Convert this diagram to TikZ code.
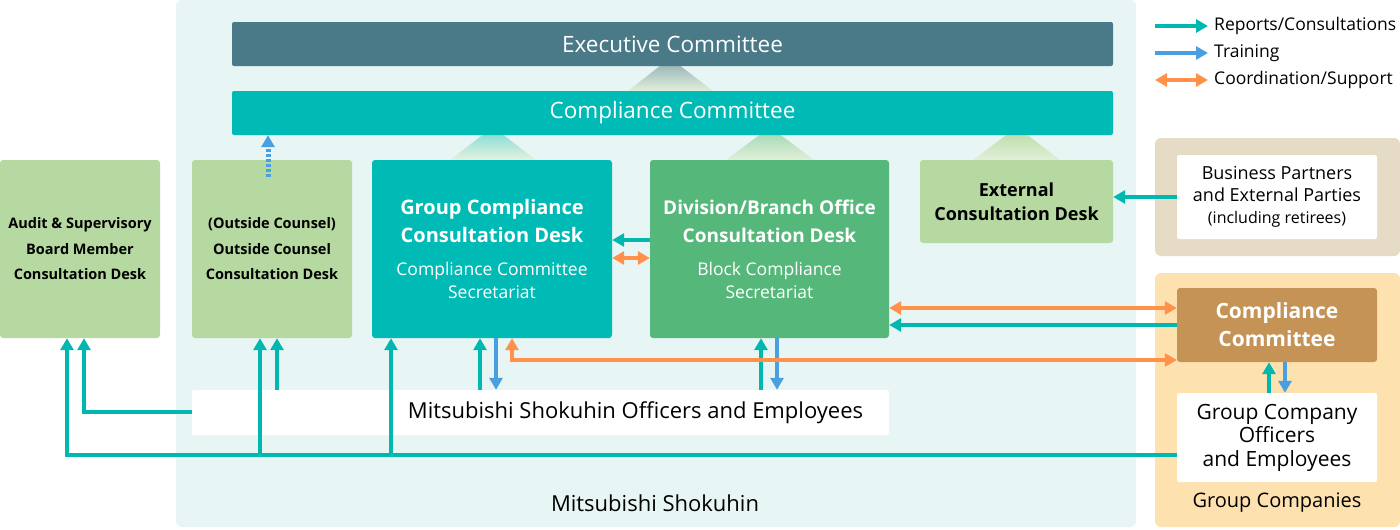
\documentclass[tikz,border=0pt]{standalone}
\usepackage{fontspec}
\setmainfont{Open Sans}
\usetikzlibrary{arrows.meta,positioning,calc}
\definecolor{msbg}{HTML}{E8F5F5}
\definecolor{execcol}{HTML}{4A7A88}
\definecolor{tealcol}{HTML}{00BAB5}
\definecolor{divgreen}{HTML}{55B87A}
\definecolor{lightgreen}{HTML}{B5D9A0}
\definecolor{partnerbg}{HTML}{E6DCC5}
\definecolor{groupbg}{HTML}{FDE2B0}
\definecolor{browncol}{HTML}{C49355}
\definecolor{reportcol}{HTML}{00B8B0}
\definecolor{traincol}{HTML}{4A9FE0}
\definecolor{coordcol}{HTML}{FF914A}
\tikzset{
  region/.style = {rounded corners=6pt,inner sep=0pt},
  bar/.style    = {rounded corners=2pt,text=white,minimum width=881pt,
                   minimum height=44pt,inner sep=0pt,
                   font=\fontsize{22.5}{26}\selectfont},
  desk/.style   = {rounded corners=3pt,align=center,inner sep=0pt},
  wbox/.style   = {fill=white,rounded corners=2pt,align=center,inner sep=0pt},
  tip/.style    = {-{Triangle[length=12pt,width=13pt]}},
  rarrow/.style = {tip,line width=4pt,color=reportcol},
  tarrow/.style = {tip,line width=4pt,color=traincol},
  carrow/.style = {{Triangle[length=12pt,width=13pt]}-{Triangle[length=12pt,width=13pt]},
                   line width=4pt,color=coordcol},
  legtext/.style= {anchor=west,inner sep=0pt,font=\fontsize{17.5}{20}\selectfont},
}
\begin{document}
\begin{tikzpicture}[x=1pt,y=-1pt]
  \useasboundingbox (0,0) rectangle (1400,530);

  % regions
  \node[region,fill=msbg,minimum width=960pt,minimum height=527pt] (ms) at (656,263.5) {};
  \node[font=\fontsize{22}{26}\selectfont] (mslabel) at (655,503) {Mitsubishi Shokuhin};
  \node[region,fill=partnerbg,minimum width=245pt,minimum height=118pt] (bpbg) at (1277.5,197) {};
  \node[region,fill=groupbg,minimum width=245pt,minimum height=254pt] (gcbg) at (1277.5,400) {};
  \node[font=\fontsize{20}{24}\selectfont] (gclabel) at (1277,503) {Group Companies};

  % pyramids
  \shade[top color=execcol!65!white,bottom color=lightgreen!40!white] (628,91) -- (670,58) -- (713,91) -- cycle;
  \shade[top color=tealcol!55!white,bottom color=lightgreen!35!white] (450,160) -- (493,127) -- (536,160) -- cycle;
  \shade[top color=divgreen!60!white,bottom color=lightgreen!40!white] (726,160) -- (770,127) -- (814,160) -- cycle;
  \shade[top color=lightgreen,bottom color=lightgreen!40!white] (973,160) -- (1017,127) -- (1060,160) -- cycle;

  % committees
  \node[bar,fill=execcol] (exec) at (672.5,44) {Executive Committee};
  \node[bar,fill=tealcol] (cc) at (672.5,113) {Compliance Committee};

  % desks
  \node[desk,fill=lightgreen,minimum width=160pt,minimum height=178pt,
        font=\fontsize{14.5}{25.5}\selectfont\bfseries] (audit) at (80,249)
        {Audit \& Supervisory\\Board Member\\Consultation Desk};
  \node[desk,fill=lightgreen,minimum width=160pt,minimum height=178pt,
        font=\fontsize{14.5}{25.5}\selectfont\bfseries] (outside) at (272,249)
        {(Outside Counsel)\\Outside Counsel\\Consultation Desk};
  \node[desk,fill=tealcol,text=white,minimum width=240pt,minimum height=178pt,
        font=\fontsize{17.5}{23}\selectfont] (group) at (492,249)
        {{\fontsize{20}{28}\selectfont\bfseries Group Compliance}\\[5pt]
         {\fontsize{20}{28}\selectfont\bfseries Consultation Desk}\\[10pt]
         Compliance Committee\\Secretariat};
  \node[desk,fill=divgreen,text=white,minimum width=239pt,minimum height=178pt,
        font=\fontsize{17.5}{23}\selectfont] (division) at (769.5,249)
        {{\fontsize{19}{28}\selectfont\bfseries Division/Branch Office}\\[5pt]
         {\fontsize{19}{28}\selectfont\bfseries Consultation Desk}\\[10pt]
         Block Compliance\\Secretariat};
  \node[desk,fill=lightgreen,minimum width=193pt,minimum height=83pt,
        font=\fontsize{18}{24}\selectfont\bfseries] (external) at (1016.5,201.5)
        {External\\Consultation Desk};

  % people
  \node[wbox,minimum width=200pt,minimum height=84pt,
        font=\fontsize{18}{22}\selectfont] (bp) at (1277,197)
        {Business Partners\\and External Parties\\{\fontsize{16}{18}\selectfont(including retirees)}};
  \node[desk,fill=browncol,text=white,minimum width=200pt,minimum height=74pt,
        font=\fontsize{21}{28}\selectfont\bfseries] (gcc) at (1277,325)
        {Compliance\\Committee};
  \node[wbox,minimum width=200pt,minimum height=89pt,
        font=\fontsize{21}{23.5}\selectfont] (gco) at (1277,437.5)
        {Group Company\\Officers\\and Employees};
  \node[wbox,minimum width=697pt,minimum height=45pt,
        font=\fontsize{22}{26}\selectfont] (officers) at (540.5,412.5)
        {\hspace*{190pt}Mitsubishi Shokuhin Officers and Employees};

  % legend
  \node[legtext] (leg1) at (1214,26) {Reports/Consultations};
  \node[legtext] (leg2) at (1214,53) {Training};
  \node[legtext] (leg3) at (1214,80) {Coordination/Support};
  \coordinate (l1) at (1155,26);
  \coordinate (l2) at (1155,53);
  \coordinate (l3) at (1155,80);
  \draw[rarrow] (l1) -- ($(leg1.west)+(-6,0)$);
  \draw[tarrow] (l2) -- ($(leg2.west)+(-6,0)$);
  \draw[carrow] (l3) -- ($(leg3.west)+(-6,0)$);

  % columns and rows of the connectors
  \coordinate (a1) at (67,0);   \coordinate (a2) at (84,0);
  \coordinate (o1) at (260,0);  \coordinate (o2) at (277,0);
  \coordinate (g1) at (391,0);  \coordinate (g2) at (480,0);
  \coordinate (g3) at (496,0);  \coordinate (g4) at (512,0);
  \coordinate (d1) at (761,0);  \coordinate (d2) at (777,0);
  \coordinate (c1) at (1269,0); \coordinate (c2) at (1285,0);
  \coordinate (low) at (0,455); \coordinate (mid) at (0,412);
  \coordinate (orng) at (0,360);

  % connectors
  \draw[rarrow] (gco.west |- low) -| (audit.south -| a1);
  \draw[rarrow] (low -| o1) -- (outside.south -| o1);
  \draw[rarrow] (low -| g1) -- (group.south -| g1);
  \draw[rarrow] (officers.west |- mid) -| (audit.south -| a2);
  \draw[rarrow] (officers.north -| o2) -- (outside.south -| o2);
  \draw[rarrow] (officers.north -| g2) -- (group.south -| g2);
  \draw[tarrow] (group.south -| g3) -- (officers.north -| g3);
  \draw[rarrow] (officers.north -| d1) -- (division.south -| d1);
  \draw[tarrow] (division.south -| d2) -- (officers.north -| d2);
  \draw[carrow] (gcc.west |- orng) -| (group.south -| g4);
  \draw[rarrow] (gco.north -| c1) -- (gcc.south -| c1);
  \draw[tarrow] (gcc.south -| c2) -- (gco.north -| c2);
  \draw[carrow] (division.east |- 0,308) -- (gcc.west |- 0,308);
  \draw[rarrow] (gcc.west |- 0,325) -- (division.east |- 0,325);
  \draw[rarrow] (bp.west) -- (external.east |- bp.west);
  \draw[rarrow] (division.west |- 0,240) -- (group.east |- 0,240);
  \draw[carrow] (group.east |- 0,258) -- (division.west |- 0,258);
  \coordinate (dotstart) at ($(outside.north)+(-4,17)$);
  \draw[tarrow,line width=5pt,dash pattern=on 3pt off 2pt] (dotstart) -- (cc.south -| dotstart);
\end{tikzpicture}
\end{document}
